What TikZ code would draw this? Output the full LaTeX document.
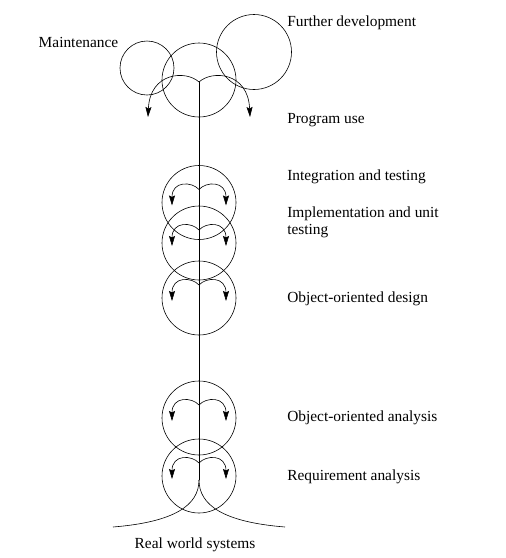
\documentclass[tikz,border=0pt]{standalone}
\usepackage{fontspec}
\setmainfont{Liberation Serif}
\usetikzlibrary{arrows.meta, positioning}

\begin{document}
\begin{tikzpicture}[x=1pt, y=-1pt, >={Stealth[length=10pt, width=6pt, inset=1.5pt]}, line width=0.6pt,
    phase/.style={draw, circle, inner sep=0pt, minimum size=74pt},
    lbl/.style={anchor=base west, inner sep=0pt, align=left,
      font=\fontsize{15.4}{17}\selectfont}]
  \useasboundingbox (0,0) rectangle (506,558);

  % circles of the life cycle
  \node[phase, minimum size=54pt] (maint) at (147,68) {};
  \node[phase, minimum size=75pt] (further) at (254,52) {};
  \node[phase] (use) at (199,80) {};
  \node[phase] (integ) at (199,202.5) {};
  \node[phase] (impl) at (199,243) {};
  \node[phase] (design) at (199,298) {};
  \node[phase] (analysis) at (199,418) {};
  \node[phase] (req) at (199,476) {};

  % trunk and roots
  \coordinate (top) at (199,82);
  \coordinate (foot) at (199,480);
  \coordinate (groundL) at (113,527);
  \coordinate (groundR) at (285,527);
  \draw (top) -- (foot);
  \draw (foot) .. controls +(0,25) and +(62,-5) .. (groundL);
  \draw (foot) .. controls +(0,25) and +(-62,-5) .. (groundR);

  % big spin at the top
  \coordinate (useL) at (148,117);
  \coordinate (useR) at (250,117);
  \draw[->] (top) .. controls +(-13,-12) and +(2,-45) .. (useL);
  \draw[->] (top) .. controls +(13,-12) and +(-2,-45) .. (useR);

  % small spins in each phase
  \foreach \n in {integ, impl, design, analysis, req} {
    \coordinate (\n-j) at ([yshift=13pt]\n.center);
    \coordinate (\n-l) at ([xshift=-27pt, yshift=-3pt]\n.center);
    \coordinate (\n-r) at ([xshift=27pt, yshift=-3pt]\n.center);
    \draw[->] (\n-j) .. controls +(-7,-8) and +(0,-25) .. (\n-l);
    \draw[->] (\n-j) .. controls +(7,-8) and +(0,-25) .. (\n-r);
  }

  % labels
  \node[lbl, anchor=base] (maintL) at (78.5,47) {Maintenance};
  \node[lbl] (furtherL) at (287,26) {Further development};
  \node[lbl] (useT) at (287,123) {Program use};
  \node[lbl] (integT) at (287,180) {Integration and testing};
  \node[lbl] (implT) at (287,234) {Implementation and unit\\testing};
  \node[lbl] (designT) at (287,302) {Object-oriented design};
  \node[lbl] (analysisT) at (287,421.5) {Object-oriented analysis};
  \node[lbl] (reqT) at (287,480) {Requirement analysis};
  \node[lbl, anchor=base] (worldT) at (195,548) {Real world systems};
\end{tikzpicture}
\end{document}
